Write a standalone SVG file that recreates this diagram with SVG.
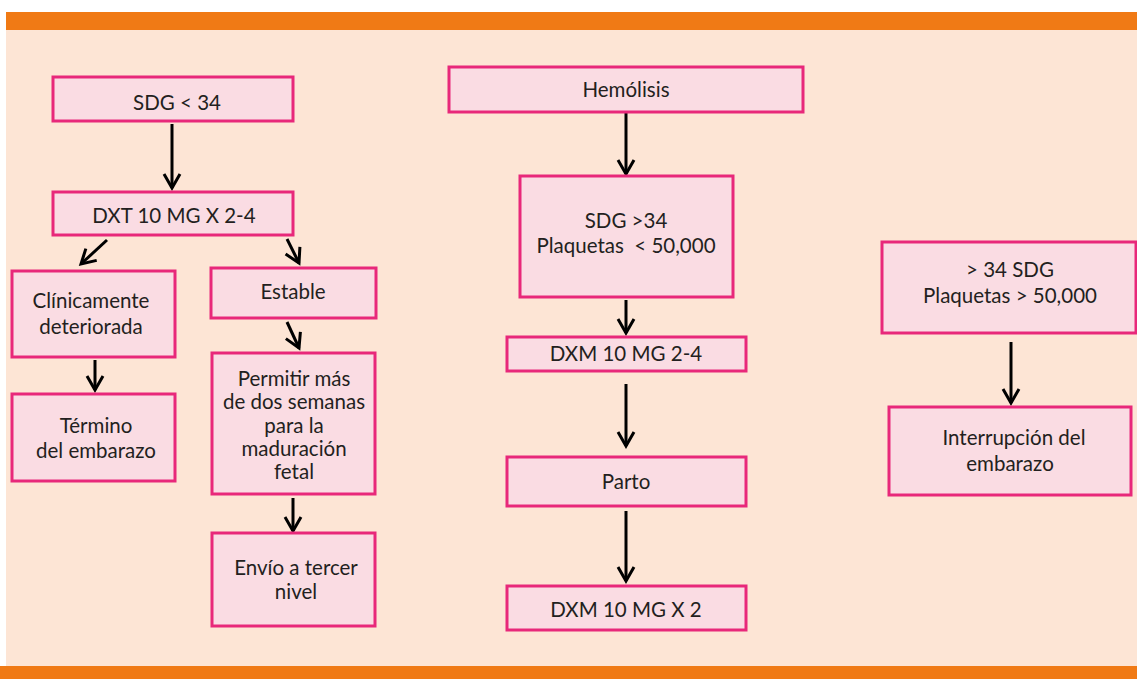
<svg xmlns="http://www.w3.org/2000/svg" width="1137" height="679" viewBox="0 0 1137 679">
<defs>
<style>
.box{fill:#FADCE3;stroke:#E8287A;stroke-width:3}
.t{font-family:Lato,"Open Sans","Liberation Sans",sans-serif;font-size:20.5px;fill:#231F20;text-anchor:middle}
.c line{stroke:#000;stroke-width:3}
</style>
<marker id="ah" viewBox="0 0 20 20" refX="17" refY="10" markerWidth="20" markerHeight="20" markerUnits="userSpaceOnUse" orient="auto">
<path d="M3,2 L17,10 L3,18" fill="none" stroke="#000" stroke-width="3"/>
</marker>
</defs>
<rect x="0" y="0" width="1137" height="679" fill="#fff"/>
<rect x="6" y="30" width="1131" height="636" fill="#FDE5D5"/>
<rect x="6" y="12" width="1131" height="18" fill="#F07A15"/>
<rect x="0" y="666" width="1137" height="13" fill="#F07A15"/>

<g class="c" id="connectors">
<line x1="172" y1="124" x2="172" y2="188" marker-end="url(#ah)"/>
<line x1="107" y1="240" x2="81" y2="264" marker-end="url(#ah)"/>
<line x1="287" y1="239" x2="299" y2="263" marker-end="url(#ah)"/>
<line x1="95" y1="360" x2="95" y2="390" marker-end="url(#ah)"/>
<line x1="287" y1="322" x2="299" y2="348" marker-end="url(#ah)"/>
<line x1="293" y1="498" x2="293" y2="531" marker-end="url(#ah)"/>
<line x1="626" y1="113" x2="626" y2="174" marker-end="url(#ah)"/>
<line x1="626" y1="300" x2="626" y2="333" marker-end="url(#ah)"/>
<line x1="626" y1="384" x2="626" y2="446" marker-end="url(#ah)"/>
<line x1="626" y1="511" x2="626" y2="581" marker-end="url(#ah)"/>
<line x1="1011" y1="342" x2="1011" y2="403" marker-end="url(#ah)"/>
</g>

<g id="n1"><rect class="box" x="53" y="77" width="240" height="44"/><text class="t" x="177" y="110">SDG &lt; 34</text></g>
<g id="n2"><rect class="box" x="53" y="192" width="240" height="43"/><text class="t" x="174" y="223">DXT 10 MG X 2-4</text></g>
<g id="n3"><rect class="box" x="12" y="271" width="163" height="86"/><text class="t" x="91" y="308">Clínicamente</text><text class="t" x="91" y="334">deteriorada</text></g>
<g id="n4"><rect class="box" x="211" y="268" width="165" height="50"/><text class="t" x="293" y="299">Estable</text></g>
<g id="n5"><rect class="box" x="12" y="394" width="163" height="87"/><text class="t" x="96" y="433">Término</text><text class="t" x="96" y="458">del embarazo</text></g>
<g id="n6"><rect class="box" x="212" y="353" width="163" height="141"/><text class="t" x="294" y="386">Permitir más</text><text class="t" x="294" y="409">de dos semanas</text><text class="t" x="294" y="433">para la</text><text class="t" x="294" y="456">maduración</text><text class="t" x="294" y="479">fetal</text></g>
<g id="n7"><rect class="box" x="212" y="533" width="163" height="93"/><text class="t" x="296" y="575">Envío a tercer</text><text class="t" x="296" y="599">nivel</text></g>
<g id="n8"><rect class="box" x="449" y="67" width="354" height="45"/><text class="t" x="626" y="97">Hemólisis</text></g>
<g id="n9"><rect class="box" x="520" y="176" width="213" height="121"/><text class="t" x="626" y="228">SDG &gt;34</text><text class="t" x="626" y="253" style="white-space:pre">Plaquetas  &lt; 50,000</text></g>
<g id="n10"><rect class="box" x="507" y="337" width="239" height="34"/><text class="t" x="626" y="361">DXM 10 MG 2-4</text></g>
<g id="n11"><rect class="box" x="507" y="457" width="239" height="49"/><text class="t" x="626" y="489">Parto</text></g>
<g id="n12"><rect class="box" x="507" y="586" width="239" height="44"/><text class="t" x="626" y="617">DXM 10 MG X 2</text></g>
<g id="n13"><rect class="box" x="882" y="242" width="254" height="91"/><text class="t" x="1010" y="277">&gt; 34 SDG</text><text class="t" x="1010" y="303">Plaquetas &gt; 50,000</text></g>
<g id="n14"><rect class="box" x="889" y="407" width="242" height="88"/><text class="t" x="1014" y="445">Interrupción del</text><text class="t" x="1010" y="471">embarazo</text></g>
</svg>
